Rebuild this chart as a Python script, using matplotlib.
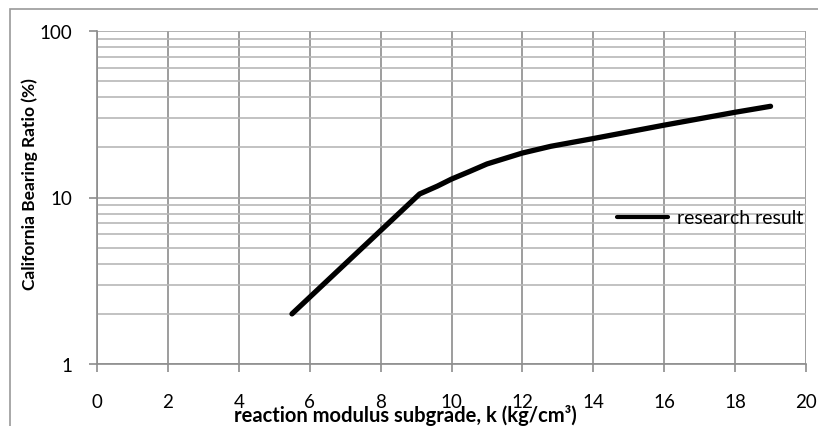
import matplotlib.pyplot as plt
from matplotlib.patches import Rectangle
from matplotlib.ticker import NullFormatter, LogLocator

# data
k_values = [5.5, 9.1, 9.6, 10, 10.5, 11, 12, 12.8, 14, 16, 18, 19]
cbr_values = [2.0, 10.5, 11.7, 12.9, 14.3, 15.9, 18.5, 20.3, 22.6, 27.2, 32.5, 35.3]
x_ticks = [0, 2, 4, 6, 8, 10, 12, 14, 16, 18, 20]
y_ticks = [1, 10, 100]

plt.rcParams['font.family'] = ['Lato', 'DejaVu Sans']

fig = plt.figure(figsize=(8.18, 4.27), dpi=100)
fig.patches.append(Rectangle((10 / 818, -0.1), 1.2, 1 - 10 / 427 + 0.1,
                             transform=fig.transFigure, fill=False,
                             edgecolor='#9a9a9a', linewidth=1.2))

ax = fig.add_axes([97 / 818, 1 - 365 / 427, (806 - 97) / 818, (365 - 32) / 427])
ax.set_yscale('log')
ax.set_xlim(0, 20)
ax.set_ylim(1, 100)

ax.set_xticks(x_ticks)
ax.set_yticks(y_ticks)
ax.set_yticklabels([str(v) for v in y_ticks])
ax.yaxis.set_minor_locator(LogLocator(base=10, subs=range(2, 10)))
ax.yaxis.set_minor_formatter(NullFormatter())
ax.tick_params(axis='y', which='minor', length=0)
ax.tick_params(axis='y', which='major', length=6, width=1.2, color='#8c8c8c',
               labelsize=13.5, pad=12)
ax.tick_params(axis='x', which='major', length=6, width=1.2, color='#8c8c8c',
               labelsize=13.5, pad=15)

ax.grid(True, axis='x', color='#8c8c8c', linewidth=1.2)
ax.grid(True, axis='y', which='major', color='#a6a6a6', linewidth=1.2)
ax.grid(True, axis='y', which='minor', color='#b8b8b8', linewidth=1.2)
ax.set_axisbelow(True)

for side in ['top', 'right']:
    ax.spines[side].set_visible(False)
for side in ['left', 'bottom']:
    ax.spines[side].set_color('#8c8c8c')
    ax.spines[side].set_linewidth(1.2)

ax.plot(k_values, cbr_values, color='black', linewidth=3.8,
        solid_capstyle='round', solid_joinstyle='round', label='research result',
        zorder=3)

leg = ax.legend(loc='center left', bbox_to_anchor=(617 / 818, 1 - 219 / 427),
                bbox_transform=fig.transFigure, frameon=False, fontsize=14,
                handlelength=2.6, handletextpad=0.5, borderpad=0,
                borderaxespad=0)
for line in leg.get_lines():
    line.set_linewidth(3)

fig.text(405 / 818, 1 - 416 / 427, 'reaction modulus subgrade, k (kg/cm³)',
         ha='center', va='center', fontsize=14.5, fontweight='bold')
fig.text(30 / 818, 1 - 184 / 427, 'California Bearing Ratio (%)',
         ha='center', va='center', rotation=90, fontsize=12.5,
         fontweight='bold')

fig.savefig('out.png', dpi=100)
